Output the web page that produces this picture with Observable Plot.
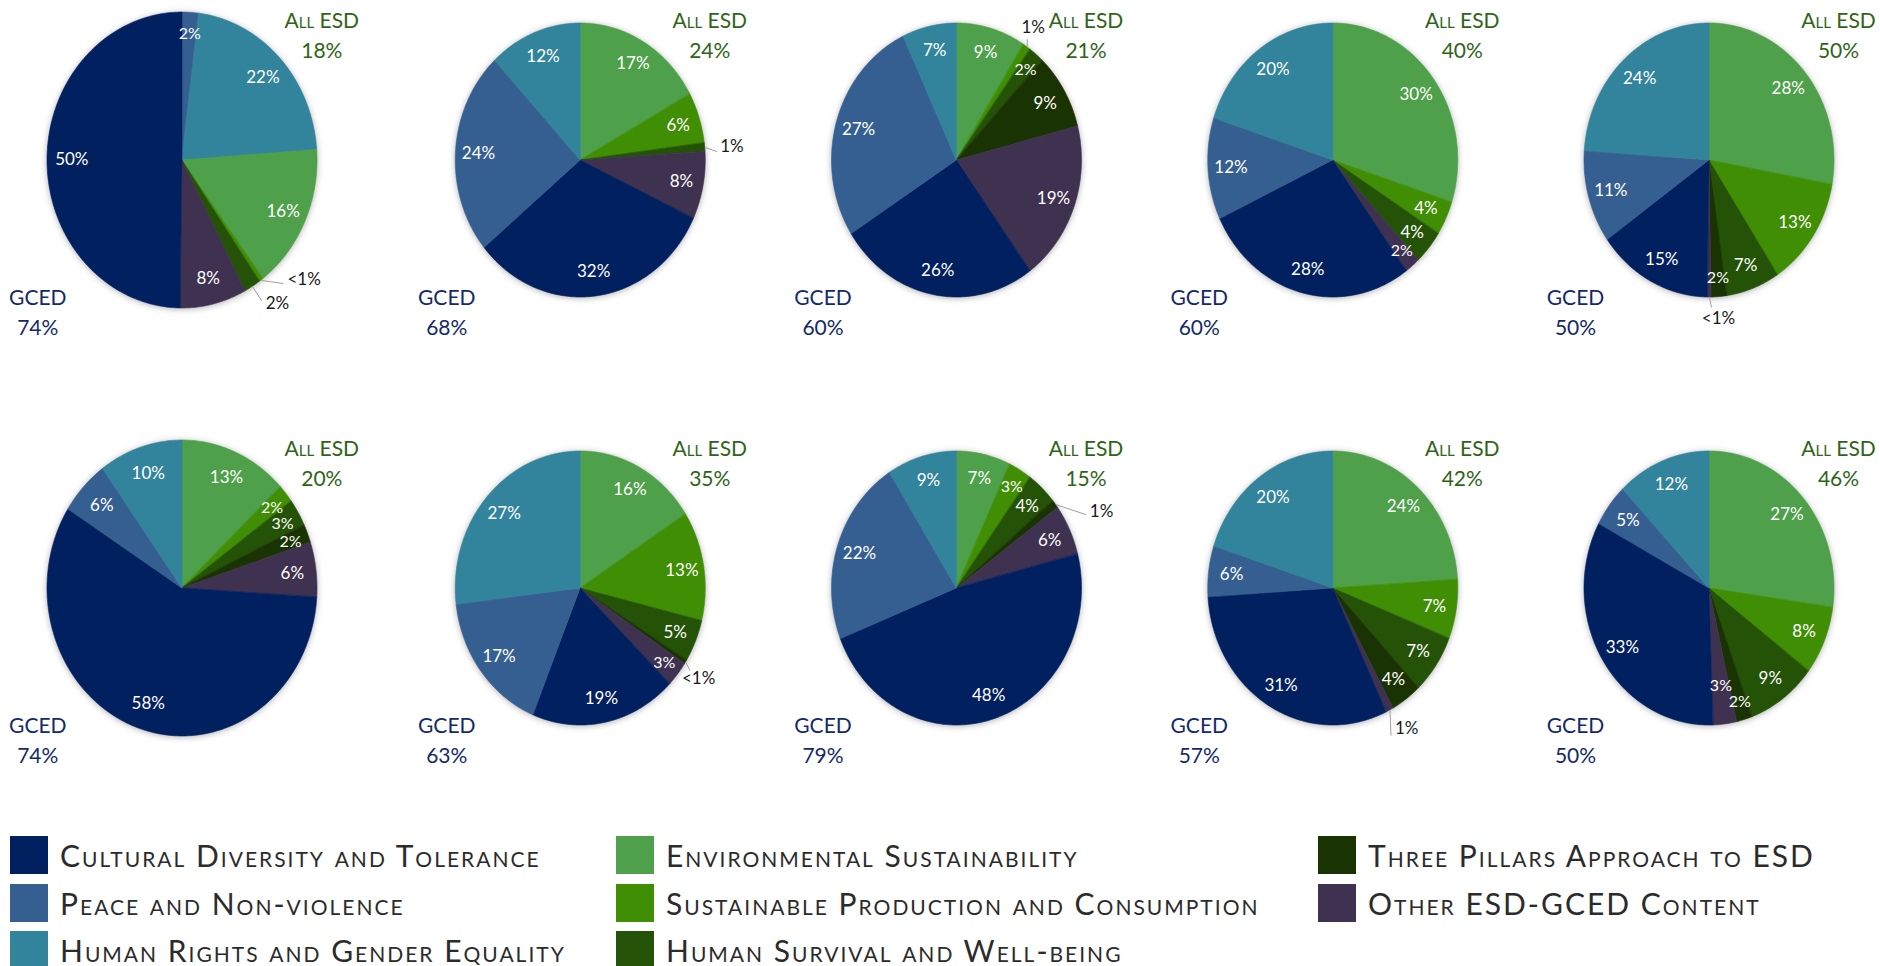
<!DOCTYPE html>
<html><head><meta charset="utf-8">
<script src="https://cdn.jsdelivr.net/npm/d3@7"></script>
<script src="https://cdn.jsdelivr.net/npm/@observablehq/plot@0.6"></script>
<style>
body{margin:0;background:#fff;font-family:Lato,"Noto Sans",sans-serif;}
#chart svg g[aria-label="area"]{filter:drop-shadow(0px 1px 3px rgba(0,0,0,0.30));}
#legend{position:relative;width:1880px;height:136px;}
.item{position:absolute;display:flex;align-items:center;font-variant:small-caps;font-size:30px;letter-spacing:2px;color:#2b2b2b;white-space:nowrap;}
.sw{width:38px;height:38px;margin-right:12px;flex:none;}
</style></head><body>
<div id="chart"></div><div id="legend"></div>
<script>
// ---------- data ----------
const categories = [
  "Environmental Sustainability",
  "Sustainable Production and Consumption",
  "Human Survival and Well-being",
  "Three Pillars Approach to ESD",
  "Other ESD-GCED Content",
  "Cultural Diversity and Tolerance",
  "Peace and Non-violence",
  "Human Rights and Gender Equality"
];
const colors = ["#4ea04a","#3f8e04","#245308","#1a3302","#3f3150","#012060","#365f91","#31849b"];

// one value per chart (10 charts, row by row); 0.5 stands for "<1%"
const envValues      = [16, 17,  9, 30, 28, 13, 16,  7, 24, 27];
const spcValues      = [0.5, 6,  1,  4, 13,  2, 13,  3,  7,  8];
const hswValues      = [ 2,  1,  2,  4,  7,  3,  5,  4,  7,  9];
const pillarsValues  = [ 0,  0,  9,  0,  2,  2, 0.5, 1,  4,  2];
const otherValues    = [ 8,  8, 19,  2, 0.5, 6,  3,  6,  1,  3];
const culturalValues = [50, 32, 26, 28, 15, 58, 19, 48, 31, 33];
const peaceValues    = [ 2, 24, 27, 12, 11,  6, 17, 22,  6,  5];
const rightsValues   = [22, 12,  7, 20, 24, 10, 27,  9, 20, 12];

const gcedTotals = [74, 68, 60, 60, 50, 74, 63, 79, 57, 50];
const esdTotals  = [18, 24, 21, 40, 50, 20, 35, 15, 42, 46];

// slice that starts at 12 o'clock in each chart
const firstSlice = ["Peace and Non-violence","Environmental Sustainability","Environmental Sustainability",
  "Environmental Sustainability","Environmental Sustainability","Environmental Sustainability",
  "Environmental Sustainability","Environmental Sustainability","Environmental Sustainability",
  "Environmental Sustainability"];

// labels drawn outside with a leader line: [chart, category, leader dx, dy, label dx, dy, anchor]
const callouts = [
  [0, "Sustainable Production and Consumption", 22, 3, 4, -4, "start"],
  [0, "Human Survival and Well-being", 9, 14, 4, 3, "start"],
  [1, "Human Survival and Well-being", 12, 4, 3, -5, "start"],
  [2, "Sustainable Production and Consumption", 0, -8, 6, -12, "middle"],
  [4, "Other ESD-GCED Content", 2, 10, 7, 11, "middle"],
  [6, "Three Pillars Approach to ESD", 4, 8, -8, 8, "start"],
  [7, "Three Pillars Approach to ESD", 30, 10, 4, -3, "start"],
  [8, "Other ESD-GCED Content", 1, 25, 4, -7, "start"]
];

const legendColumns = [
  ["Cultural Diversity and Tolerance","Peace and Non-violence","Human Rights and Gender Equality"],
  ["Environmental Sustainability","Sustainable Production and Consumption","Human Survival and Well-being"],
  ["Three Pillars Approach to ESD","Other ESD-GCED Content"]
];

// ---------- layout ----------
const series = [envValues, spcValues, hswValues, pillarsValues, otherValues, culturalValues, peaceValues, rightsValues];
const X0 = 204, X1 = 1709;
const KX = (X1 - X0) / 4, KY = 428;  // px per unit (from the scale ranges below)
const RX = 125 / KX, RY = 137 / KY;  // pie radii in units
const nCharts = gcedTotals.length;

const arcRows = [], insideRows = [], calloutRows = [], summaryRows = [];
for (let i = 0; i < nCharts; i++) {
  const col = i % 5, row = Math.floor(i / 5);
  const s = col === 0 ? 1.08 : 1;
  const cx = col + (col === 0 ? -22 / KX : 0), cy = row;
  const start = categories.indexOf(firstSlice[i]);
  const order = categories.map((_, k) => categories[(start + k) % categories.length]);
  const vals = order.map(c => series[categories.indexOf(c)][i]);
  const total = d3.sum(vals);
  const pt = (r, a) => [cx + r * s * RX * Math.sin(a), cy - r * s * RY * Math.cos(a)];
  let acc = 0, prevSmall = false, inner = false;
  order.forEach((cat, k) => {
    const v = vals[k];
    if (!(v > 0)) return;
    const a0 = acc / total * 2 * Math.PI, a1 = (acc + v) / total * 2 * Math.PI;
    acc += v;
    const n = Math.max(2, Math.ceil((a1 - a0) / (Math.PI / 180)));
    const key = i + "|" + cat;
    for (let t = 0; t <= n; t++) {
      const [x, y] = pt(1, a0 + (a1 - a0) * t / n);
      arcRows.push({key, cat, x1: cx, y1: cy, x2: x, y2: y});
    }
    const am = (a0 + a1) / 2;
    const text = v < 1 ? "<1%" : v + "%";
    const co = callouts.find(c => c[0] === i && c[1] === cat);
    if (co) {
      const [ex, ey] = pt(1, am);
      const lx = ex + co[2] / KX, ly = ey + co[3] / KY;
      calloutRows.push({ex, ey, lx, ly, tx: lx + co[4] / KX, ty: ly + co[5] / KY, text, anchor: co[6]});
      prevSmall = false;
    } else {
      const small = v < 4;
      inner = small && prevSmall && !inner && Math.abs(Math.cos(am)) > 0.9;
      const [x, y] = pt(small ? (inner ? 0.72 : 0.86) : 0.82, am);
      insideRows.push({x, y, text, small});
      prevSmall = small;
    }
  });
  summaryRows.push({
    gx: cx - 134 * s / KX, gy: cy + 150 / KY,
    ex: cx + 129 * s / KX, ey: cy - 127 / KY,
    gced: gcedTotals[i], esd: esdTotals[i]
  });
}

const chart = Plot.plot({
  width: 1880,
  height: 830,
  style: {fontFamily: "Lato, 'Noto Sans', sans-serif", background: "#fff"},
  x: {domain: [0, 4], range: [X0, X1], axis: null},
  y: {domain: [0, 1], range: [160, 588], axis: null},
  color: {domain: categories, range: colors},
  marks: [
    Plot.area(arcRows, {x1: "x1", y1: "y1", x2: "x2", y2: "y2", z: "key", fill: "cat", stroke: "cat", strokeWidth: 0.6, curve: "linear"}),
    Plot.text(insideRows.filter(d => !d.small), {x: "x", y: "y", text: "text", fill: "white", fontSize: 17}),
    Plot.text(insideRows.filter(d => d.small), {x: "x", y: "y", text: "text", fill: "white", fontSize: 16}),
    Plot.link(calloutRows, {x1: "ex", y1: "ey", x2: "lx", y2: "ly", stroke: "#a0a0a0", strokeWidth: 1}),
    Plot.text(calloutRows.filter(d => d.anchor === "start"), {x: "tx", y: "ty", text: "text", fill: "#1a1a1a", fontSize: 17, textAnchor: "start"}),
    Plot.text(calloutRows.filter(d => d.anchor === "middle"), {x: "tx", y: "ty", text: "text", fill: "#1a1a1a", fontSize: 17, textAnchor: "middle"}),
    Plot.text(summaryRows, {x: "gx", y: "gy", text: d => `GCED\n${d.gced}%`, fill: "#14296b", fontSize: 21, lineHeight: 1.43}),
    Plot.text(summaryRows, {x: "ex", y: "ey", text: d => `All ESD\n${d.esd}%`, fill: "#2f6418", fontSize: 21, lineHeight: 1.43, fontVariant: "small-caps"})
  ]
});
document.getElementById("chart").appendChild(chart);

// ---------- legend ----------
const legend = document.getElementById("legend");
const colLeft = [10, 616, 1318], rowTop = [6, 54, 101];
legendColumns.forEach((names, c) => names.forEach((name, r) => {
  const item = document.createElement("div");
  item.className = "item";
  item.style.left = colLeft[c] + "px";
  item.style.top = rowTop[r] + "px";
  const sw = document.createElement("div");
  sw.className = "sw";
  sw.style.background = colors[categories.indexOf(name)];
  const label = document.createElement("span");
  label.textContent = name;
  item.appendChild(sw); item.appendChild(label);
  legend.appendChild(item);
}));
</script>
</body></html>
